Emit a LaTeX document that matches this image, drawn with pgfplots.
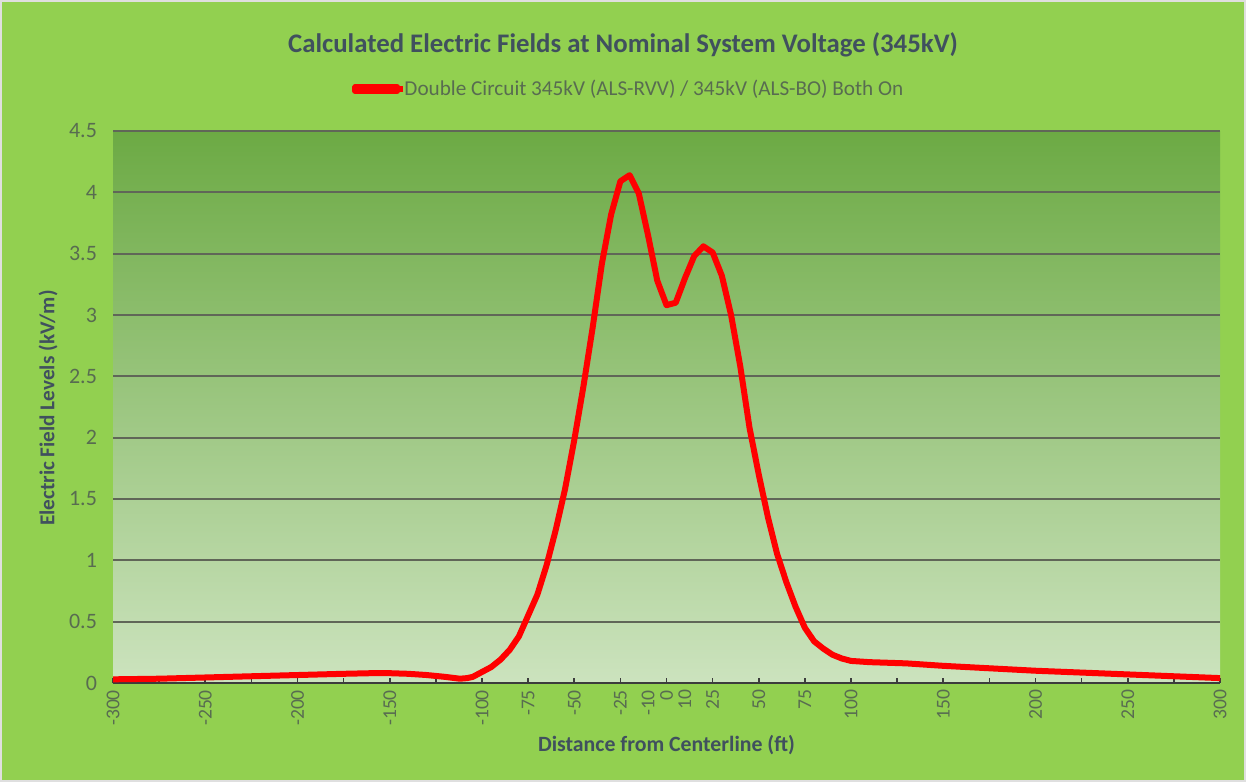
\documentclass[border=0pt]{standalone}
\usepackage{pgfplots}
\pgfplotsset{compat=1.18}
\usepackage{fontspec}
\setmainfont{Carlito}
\definecolor{bgout}{RGB}{146,208,80}
\definecolor{plottop}{RGB}{108,170,68}
\definecolor{plotbot}{RGB}{204,227,190}
\definecolor{titlecol}{RGB}{64,80,94}
\definecolor{tickcol}{RGB}{88,108,80}
\definecolor{gridcol}{RGB}{96,102,88}
\definecolor{axcol}{RGB}{60,60,60}
\pgfplotstableread{
x y
-300 0.03
-275 0.035
-250 0.045
-225 0.055
-200 0.065
-175 0.075
-160 0.08
-150 0.08
-140 0.075
-130 0.065
-120 0.05
-112 0.035
-108 0.04
-105 0.05
-100 0.09
-95 0.13
-90 0.19
-85 0.27
-80 0.38
-75 0.55
-70 0.72
-65 0.96
-60 1.25
-55 1.58
-50 1.98
-45 2.42
-40 2.90
-35 3.42
-30 3.82
-25 4.09
-20 4.14
-15 3.99
-10 3.65
-5 3.28
0 3.08
5 3.10
10 3.30
15 3.48
20 3.56
25 3.51
30 3.32
35 3.00
40 2.58
45 2.08
50 1.70
55 1.35
60 1.05
65 0.82
70 0.62
75 0.45
80 0.34
85 0.28
90 0.23
95 0.20
100 0.18
110 0.17
120 0.165
130 0.16
150 0.14
175 0.12
200 0.10
225 0.085
250 0.07
275 0.055
300 0.04
}\datatable
\begin{document}
\begin{tikzpicture}
\fill[bgout] (0pt,0pt) rectangle (623pt,391pt);
\draw[white!75!gray, line width=1pt] (0.5pt,0.5pt) rectangle (622.5pt,390.5pt);
\begin{axis}[
  at={(56.5pt,49.5pt)}, anchor=south west,
  width=553.5pt, height=276pt, scale only axis,
  xmin=-300, xmax=300, ymin=0, ymax=4.5,
  axis background/.style={top color=plottop, bottom color=plotbot},
  axis lines*=left,
  x axis line style={axcol, line width=1pt},
  y axis line style={draw=none},
  xtick={-300,-250,-200,-150,-100,-75,-50,-25,-10,0,10,25,50,75,100,150,200,250,300},
  xticklabels={-300,-250,-200,-150,-100,-75,-50,-25,-10,0,10,25,50,75,100,150,200,250,300},
  minor xtick={-300,-275,...,300},
  major tick length=0pt,
  minor tick length=2.5pt,
  tick align=inside,
  minor tick style={axcol, line width=0.8pt},
  ytick={0,0.5,...,4.5},
  yticklabels={0,0.5,1,1.5,2,2.5,3,3.5,4,4.5},
  ymajorgrids=true,
  major grid style={gridcol, line width=1pt},
  xticklabel style={rotate=90, anchor=east, font=\fontsize{9.8}{11}\selectfont, text=tickcol},
  yticklabel style={font=\fontsize{11}{12}\selectfont, text=tickcol, xshift=-4.5pt},
  /pgf/number format/assume math mode=true,
  xlabel={\textbf{Distance from Centerline (ft)}},
  ylabel={\textbf{Electric Field Levels (kV/m)}},
  xlabel style={at={(axis description cs:0.5,-0.112)}, anchor=center, font=\fontsize{10.9}{12}\selectfont, text=titlecol},
  ylabel style={at={(axis description cs:-0.0587,0.498)}, anchor=center, font=\fontsize{10.6}{12}\selectfont, text=titlecol},
  title={\textbf{Calculated Electric Fields at Nominal System Voltage (345kV)}},
  title style={at={(axis description cs:0.4607,1.134)}, anchor=center, font=\fontsize{13.4}{15}\selectfont, text=titlecol},
  legend style={at={(axis description cs:0.467,1.076)}, anchor=center, draw=none, fill=none, font=\fontsize{10.6}{12}\selectfont, text=tickcol, inner sep=0pt},
  legend cell align=left,
  legend image code/.code={\draw[#1, line width=3pt, line cap=butt, overlay] (0pt,0pt) -- (24pt,0pt); \path (0pt,-1pt) rectangle (21pt,1pt);},
]
\addplot[red, line width=3pt, line join=round, line cap=round] table[x=x,y=y] {\datatable};
\addlegendentry{Double Circuit 345kV (ALS-RVV) / 345kV (ALS-BO) Both On}
\end{axis}
\pgfresetboundingbox
\useasboundingbox (0pt,0pt) rectangle (623pt,391pt);
\end{tikzpicture}
\end{document}
